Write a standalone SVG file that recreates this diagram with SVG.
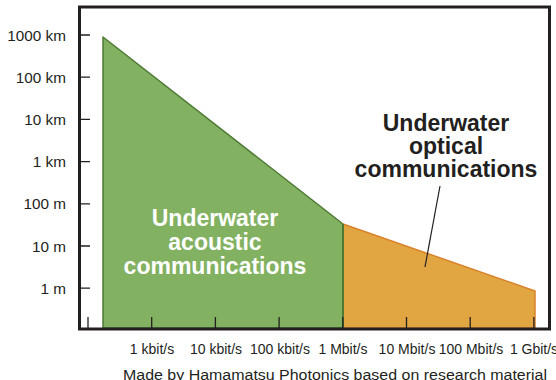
<svg xmlns="http://www.w3.org/2000/svg" width="556" height="380" viewBox="0 0 556 380">
<style>
.lbl{font-family:"Liberation Sans",Arial,Helvetica,sans-serif;fill:#231f20}
.y{font-size:15.3px;text-anchor:end}
.x{font-size:14px;text-anchor:middle}
.big{font-family:"Liberation Sans",Arial,Helvetica,sans-serif;font-weight:bold;font-size:23px;text-anchor:middle}
.tick{stroke:#231f20;stroke-width:1.3;fill:none}
</style>
<rect width="556" height="380" fill="#ffffff"/>
<g id="acoustic">
<polygon points="103,37 343,224 343,328 103,328" fill="#82b161" stroke="#4e7a35" stroke-width="1.5" stroke-linejoin="round"/>
<text class="big" fill="#ffffff" x="215" y="226">Underwater</text>
<text class="big" fill="#ffffff" x="215" y="250">acoustic</text>
<text class="big" fill="#ffffff" x="215" y="274">communications</text>
</g>
<g id="optical">
<polygon points="343,224 535,291 535,328 343,328" fill="#e1a641" stroke="#d9822b" stroke-width="1.5" stroke-linejoin="round"/>
<line x1="343" y1="224" x2="343" y2="328" stroke="#4e7a35" stroke-width="2"/>
<text class="big" fill="#231f20" x="446" y="131">Underwater</text>
<text class="big" fill="#231f20" x="446" y="154">optical</text>
<text class="big" fill="#231f20" x="446" y="177">communications</text>
</g>
<g id="connectors">
<line x1="440" y1="186" x2="425" y2="267" stroke="#231f20" stroke-width="1.2"/>
</g>
<g id="axes">
<rect x="79.5" y="7" width="470" height="322" fill="none" stroke="#231f20" stroke-width="3"/>
<path class="tick" d="M80,35H90M80,77.2H90M80,119.4H90M80,161.6H90M80,203.8H90M80,246H90M80,288.2H90"/>
<path class="tick" d="M88,317V328M151.7,317V328M215.4,317V328M279.1,317V328M342.8,317V328M406.5,317V328M470.2,317V328M533.9,317V328"/>
<text class="lbl y" x="66" y="40.5">1000 km</text>
<text class="lbl y" x="66" y="82.7">100 km</text>
<text class="lbl y" x="66" y="124.9">10 km</text>
<text class="lbl y" x="66" y="167.1">1 km</text>
<text class="lbl y" x="66" y="209.3">100 m</text>
<text class="lbl y" x="66" y="251.5">10 m</text>
<text class="lbl y" x="66" y="293.7">1 m</text>
<text class="lbl x" x="152" y="354">1 kbit/s</text>
<text class="lbl x" x="216" y="354">10 kbit/s</text>
<text class="lbl x" x="280" y="354">100 kbit/s</text>
<text class="lbl x" x="343" y="354">1 Mbit/s</text>
<text class="lbl x" x="407" y="354">10 Mbit/s</text>
<text class="lbl x" x="471" y="354">100 Mbit/s</text>
<text class="lbl x" x="534" y="354">1 Gbit/s</text>
<text class="lbl" x="123" y="380" font-size="15.5" textLength="424" lengthAdjust="spacingAndGlyphs">Made by Hamamatsu Photonics based on research material</text>
</g>
</svg>
